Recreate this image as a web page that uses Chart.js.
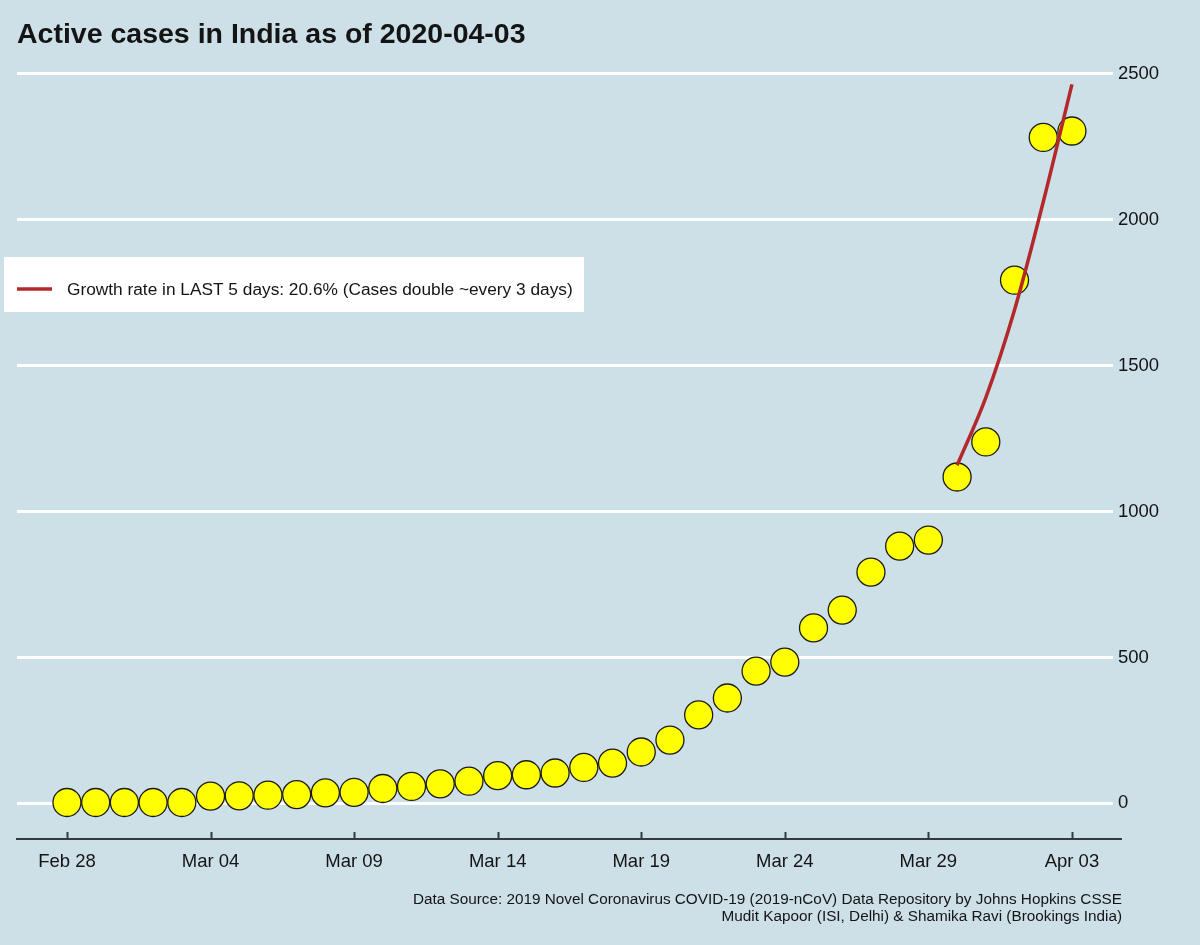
<!DOCTYPE html>
<html>
<head>
<meta charset="utf-8">
<title>Active cases in India</title>
<script src="https://cdn.jsdelivr.net/npm/chart.js@4/dist/chart.umd.min.js"></script>
<style>
  html, body { margin: 0; padding: 0; background: #cddfe7; }
  #wrap { width: 1200px; height: 945px; }
</style>
</head>
<body>
<div id="wrap"><canvas id="casesChart" width="1200" height="945"></canvas></div>
<script>
// Day index 0 = Feb 28, 2020 (leap year, so Feb 29 is included)
const dates = [
    'Feb 28', 'Feb 29', 'Mar 01', 'Mar 02', 'Mar 03', 'Mar 04', 'Mar 05', 'Mar 06', 'Mar 07',
    'Mar 08', 'Mar 09', 'Mar 10', 'Mar 11', 'Mar 12', 'Mar 13', 'Mar 14', 'Mar 15', 'Mar 16',
    'Mar 17', 'Mar 18', 'Mar 19', 'Mar 20', 'Mar 21', 'Mar 22', 'Mar 23', 'Mar 24', 'Mar 25',
    'Mar 26', 'Mar 27', 'Mar 28', 'Mar 29', 'Mar 30', 'Mar 31', 'Apr 01', 'Apr 02', 'Apr 03'
];
const activeCases = [
    3, 3, 3, 3, 3, 25, 26, 28, 30,
    36, 38, 51, 58, 67, 76, 95, 98, 104,
    123, 138, 176, 217, 303, 361, 453, 484, 601,
    662, 792, 881, 902, 1118, 1238, 1792, 2281, 2303
];

// Fitted growth curve over the last 5 days (Mar 30 .. Apr 03)
const fitDays = [31, 32, 33, 34, 35];
const fitValues = [1158, 1390, 1690, 2060, 2463];

const xTickDays = [0, 5, 10, 15, 20, 25, 30, 35];
const yTicks = [0, 500, 1000, 1500, 2000, 2500];

const titleText = 'Active cases in India as of 2020-04-03';
const legendText = 'Growth rate in LAST 5 days: 20.6% (Cases double ~every 3 days)';
const sourceLines = [
    'Data Source: 2019 Novel Coronavirus COVID-19 (2019-nCoV) Data Repository by Johns Hopkins CSSE',
    'Mudit Kapoor (ISI, Delhi) & Shamika Ravi (Brookings India)'
];

// Colors
const bgColor = '#cddfe7';
const pointYellow = '#ffff00';
const fitRed = '#b3292b';
const inkColor = '#141414';
const axisColor = '#333a3e';
const fontFamily = '"Liberation Sans", Arial, Helvetica, sans-serif';

// background, axis line, legend box, upward x ticks and source note
const decorPlugin = {
    id: 'decor',
    beforeDraw(chart) {
        const ctx = chart.ctx;
        ctx.save();
        ctx.fillStyle = bgColor;
        ctx.fillRect(0, 0, chart.width, chart.height);
        ctx.restore();
    },
    afterDraw(chart) {
        const ctx = chart.ctx;
        const area = chart.chartArea;
        const xScale = chart.scales.x;
        ctx.save();

        // axis line runs a little past the plot area, like the original
        ctx.strokeStyle = axisColor;
        ctx.lineWidth = 2;
        ctx.beginPath();
        ctx.moveTo(area.left - 1, area.bottom);
        ctx.lineTo(area.right + 9, area.bottom);
        ctx.stroke();

        // tick marks pointing up from the axis line
        xTickDays.forEach(function(d) {
            const px = Math.round(xScale.getPixelForValue(d)) + 0.5;
            ctx.beginPath();
            ctx.moveTo(px, area.bottom - 7);
            ctx.lineTo(px, area.bottom);
            ctx.stroke();
        });

        // legend box
        ctx.fillStyle = '#ffffff';
        ctx.fillRect(4, 257, 580, 55);
        ctx.strokeStyle = fitRed;
        ctx.lineWidth = 3.5;
        ctx.beginPath();
        ctx.moveTo(17, 289);
        ctx.lineTo(52, 289);
        ctx.stroke();
        ctx.fillStyle = inkColor;
        ctx.font = '17.3px ' + fontFamily;
        ctx.textAlign = 'left';
        ctx.textBaseline = 'middle';
        ctx.fillText(legendText, 67, 290);

        // source note
        ctx.font = '15.3px ' + fontFamily;
        ctx.textAlign = 'right';
        ctx.fillText(sourceLines[0], 1122, 900);
        ctx.fillText(sourceLines[1], 1122, 917);
        ctx.restore();
    }
};

new Chart(document.getElementById('casesChart'), {
    type: 'scatter',
    data: {
        datasets: [{
            type: 'line',
            label: legendText,
            data: fitDays.map(function(d, i) { return { x: d, y: fitValues[i] }; }),
            borderColor: fitRed,
            borderWidth: 3.5,
            pointRadius: 0,
            cubicInterpolationMode: 'monotone',
            fill: false,
            order: 0
        }, {
            label: 'Active cases',
            data: activeCases.map(function(v, i) { return { x: i, y: v }; }),
            backgroundColor: pointYellow,
            borderColor: '#1a1a1a',
            borderWidth: 1.3,
            pointRadius: 14,
            pointHoverRadius: 14,
            order: 1
        }]
    },
    options: {
        responsive: false,
        animation: false,
        layout: {
            padding: { left: 17, right: 0, top: 0, bottom: 0 }
        },
        plugins: {
            legend: { display: false },
            tooltip: { enabled: false },
            title: {
                display: true,
                text: titleText,
                align: 'start',
                color: inkColor,
                font: { family: fontFamily, size: 28.5, weight: 'bold' },
                padding: { top: 18, bottom: 7 }
            }
        },
        scales: {
            x: {
                type: 'linear',
                min: -1.74,
                max: 36.43,
                afterBuildTicks: function(scale) {
                    scale.ticks = xTickDays.map(function(d) { return { value: d }; });
                },
                afterFit: function(scale) {
                    scale.height = 106;
                },
                grid: { drawOnChartArea: false, drawTicks: false },
                border: { display: false },
                ticks: {
                    autoSkip: false,
                    maxRotation: 0,
                    padding: 12,
                    color: inkColor,
                    font: { family: fontFamily, size: 18.5 },
                    callback: function(value) { return dates[value]; }
                }
            },
            y: {
                position: 'right',
                min: -122,
                max: 2549,
                afterBuildTicks: function(scale) {
                    scale.ticks = yTicks.map(function(v) { return { value: v }; });
                },
                afterFit: function(scale) {
                    scale.width = 87;
                },
                grid: { color: '#ffffff', lineWidth: 3, drawTicks: false },
                border: { display: false },
                ticks: {
                    padding: 5,
                    color: inkColor,
                    font: { family: fontFamily, size: 18.5 },
                    callback: function(value) { return String(value); }
                }
            }
        }
    },
    plugins: [decorPlugin]
});
</script>
</body>
</html>
